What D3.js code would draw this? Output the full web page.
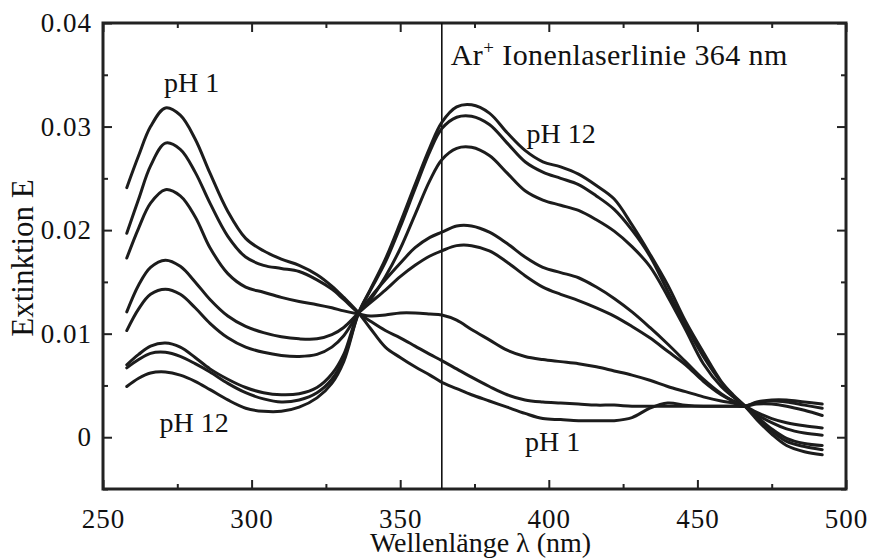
<!DOCTYPE html>
<html>
<head>
<meta charset="utf-8">
<script src="https://d3js.org/d3.v7.min.js"></script>
<style>
  body { margin: 0; background: #fff; }
  svg text { font-family: "Liberation Serif", "DejaVu Serif", serif; fill: #111; }
</style>
</head>
<body>
<div id="chart"></div>
<script>
// wavelength grid (nm) shared by all spectra
const lambda = [258, 262, 266, 271, 276, 281, 286, 292, 298, 304, 310, 316, 322, 327, 331,
  336, 340, 345, 350, 355, 360, 364, 369, 374, 380, 386, 392, 398, 404, 410, 416, 422,
  428, 434, 440, 446, 452, 458, 462, 466, 470, 475, 480, 486, 492];

// extinction, from pH 1 (first) to pH 12 (last)
const specA = [.0241, .0272, .0300, .0318, .0311, .0288, .0255, .0218, .0192, .0180, .0172, .0166, .0157, .0146, .0135,
  .0120, .0105, .0087, .0077, .0068, .0060, .0053, .0047, .0041, .0035, .0029, .0023, .0018, .0017, .0016, .0016, .0016,
  .0019, .0028, .0033, .0031, .0030, .0030, .0030, .0030, .0034, .0036, .0036, .0034, .0032];
const specB = [.0197, .0230, .0262, .0284, .0278, .0256, .0226, .0194, .0174, .0166, .0163, .0160, .0152, .0143, .0133,
  .0120, .0112, .0103, .0096, .0088, .0080, .0074, .0066, .0058, .0049, .0041, .0036, .0034, .0033, .0032, .0031, .0031,
  .0030, .0030, .0030, .0030, .0030, .0030, .0030, .0030, .0033, .0035, .0034, .0031, .0028];
const specC = [.0173, .0202, .0226, .0239, .0233, .0213, .0183, .0158, .0145, .0140, .0135, .0131, .0128, .0125, .0122,
  .0119, .0117, .0118, .0120, .0120, .0119, .0118, .0113, .0104, .0094, .0084, .0078, .0075, .0073, .0071, .0068, .0064,
  .0060, .0055, .0049, .0044, .0039, .0035, .0033, .0030, .0032, .0032, .0030, .0026, .0021];
const specD = [.0121, .0147, .0164, .0171, .0165, .0150, .0133, .0117, .0107, .0101, .0097, .0095, .0095, .0099, .0106,
  .0120, .0130, .0142, .0155, .0166, .0175, .0180, .0185, .0185, .0180, .0169, .0156, .0145, .0138, .0132, .0125, .0117,
  .0107, .0096, .0083, .0070, .0054, .0041, .0035, .0030, .0024, .0018, .0014, .0011, .0009];
const specE = [.0103, .0124, .0138, .0143, .0138, .0125, .0110, .0096, .0087, .0082, .0079, .0078, .0080, .0087, .0098,
  .0120, .0135, .0152, .0168, .0183, .0193, .0198, .0204, .0204, .0198, .0187, .0174, .0164, .0159, .0154, .0145, .0134,
  .0121, .0106, .0090, .0073, .0056, .0042, .0035, .0030, .0022, .0014, .0008, .0004, .0002];
const specF = [.0070, .0080, .0088, .0091, .0087, .0077, .0066, .0056, .0048, .0043, .0041, .0042, .0048, .0061, .0080,
  .0120, .0133, .0155, .0182, .0215, .0248, .0268, .0279, .0280, .0272, .0255, .0238, .0229, .0224, .0219, .0210, .0199,
  .0184, .0165, .0136, .0104, .0071, .0049, .0039, .0030, .0020, .0008, -.0001, -.0006, -.0008];
const specG = [.0067, .0075, .0081, .0082, .0078, .0071, .0063, .0052, .0043, .0037, .0034, .0036, .0043, .0056, .0076,
  .0120, .0142, .0169, .0203, .0240, .0276, .0298, .0309, .0310, .0302, .0284, .0266, .0256, .0250, .0244, .0233, .0220,
  .0200, .0175, .0141, .0108, .0078, .0053, .0040, .0030, .0019, .0006, -.0004, -.0009, -.0012];
const specH = [.0049, .0057, .0062, .0063, .0060, .0054, .0046, .0036, .0028, .0025, .0025, .0029, .0038, .0052, .0073,
  .0120, .0143, .0172, .0207, .0244, .0280, .0304, .0319, .0321, .0313, .0294, .0277, .0266, .0261, .0254, .0243, .0230,
  .0205, .0177, .0147, .0112, .0082, .0054, .0041, .0030, .0017, .0003, -.0008, -.0014, -.0017];

const spectra = [specA, specB, specC, specD, specE, specF, specG, specH];

const xTicks = [250, 300, 350, 400, 450, 500];
const yTicks = [0, 0.01, 0.02, 0.03, 0.04];
const laserLine = 364;

const width = 869, height = 559;
const margin = {top: 23, right: 23, bottom: 70, left: 103};

const svg = d3.select("#chart")
  .append("svg")
    .attr("width", width)
    .attr("height", height);

const x = d3.scaleLinear()
  .domain([250, 500])
  .range([margin.left, width - margin.right]);

const y = d3.scaleLinear()
  .domain([-0.005, 0.04])
  .range([height - margin.bottom, margin.top]);

const x0 = x.range()[0], x1 = x.range()[1];
const yb = y.range()[0], yt = y.range()[1];

// minor ticks
svg.append("g")
  .attr("transform", `translate(0, ${yb})`)
  .call(d3.axisBottom(x).tickValues(d3.range(275, 500, 50)).tickSize(-5).tickFormat(""));
svg.append("g")
  .attr("transform", `translate(0, ${yt})`)
  .call(d3.axisTop(x).tickValues(d3.range(275, 500, 50)).tickSize(-5).tickFormat(""));
svg.append("g")
  .attr("transform", `translate(${x0}, 0)`)
  .call(d3.axisLeft(y).tickValues([-0.005, 0.005, 0.015, 0.025, 0.035]).tickSize(-5).tickFormat(""));
svg.append("g")
  .attr("transform", `translate(${x1}, 0)`)
  .call(d3.axisRight(y).tickValues([-0.005, 0.005, 0.015, 0.025, 0.035]).tickSize(-5).tickFormat(""));

// major ticks + labels
svg.append("g")
  .attr("class", "xaxis")
  .attr("transform", `translate(0, ${yb})`)
  .call(d3.axisBottom(x).tickValues(xTicks).tickSize(-9).tickPadding(20).tickFormat(d3.format("d")));
svg.append("g")
  .attr("transform", `translate(0, ${yt})`)
  .call(d3.axisTop(x).tickValues(xTicks).tickSize(-9).tickFormat(""));
svg.append("g")
  .attr("class", "yaxis")
  .attr("transform", `translate(${x0}, 0)`)
  .call(d3.axisLeft(y).tickValues(yTicks).tickSize(-9).tickPadding(11)
    .tickFormat(d => d === 0 ? "0" : d3.format(".2f")(d)));
svg.append("g")
  .attr("transform", `translate(${x1}, 0)`)
  .call(d3.axisRight(y).tickValues(yTicks).tickSize(-9).tickFormat(""));

svg.selectAll(".domain").remove();
svg.selectAll(".tick line").attr("stroke", "#222").attr("stroke-width", 2);
svg.selectAll(".xaxis text, .yaxis text")
  .style("font-family", "Liberation Serif, serif")
  .style("font-size", "27px")
  .style("letter-spacing", "1px")
  .attr("fill", "#111");

// frame
svg.append("rect")
  .attr("x", x0).attr("y", yt)
  .attr("width", x1 - x0).attr("height", yb - yt)
  .attr("fill", "none")
  .attr("stroke", "#222")
  .attr("stroke-width", 3);

// laser line
svg.append("line")
  .attr("x1", x(laserLine)).attr("x2", x(laserLine))
  .attr("y1", yt).attr("y2", yb)
  .attr("stroke", "#111")
  .attr("stroke-width", 1.6);

// spectra
const line = d3.line()
  .x((d, i) => x(lambda[i]))
  .y(d => y(d))
  .curve(d3.curveCatmullRom.alpha(0.5));

svg.selectAll("path.spec")
  .data(spectra)
  .join("path")
    .attr("class", "spec")
    .attr("d", line)
    .attr("fill", "none")
    .attr("stroke", "#1c1c1c")
    .attr("stroke-width", 3)
    .attr("stroke-linejoin", "round")
    .attr("stroke-linecap", "round");

// annotations
function label(txt, px, py, size) {
  return svg.append("text")
    .attr("x", px).attr("y", py)
    .style("font-size", size + "px")
    .text(txt);
}
label("pH 1", x(270.5), y(0.0333), 28);
label("pH 12", x(392.5), y(0.0284), 28);
label("pH 12", x(269), y(0.0005), 28);
label("pH 1", x(392), y(-0.0013), 28);

const ar = svg.append("text")
  .attr("x", x(laserLine) + 9)
  .attr("y", y(0.0359))
  .style("font-size", "30px")
  .style("letter-spacing", "0.4px");
ar.append("tspan").text("Ar");
ar.append("tspan").attr("dy", -11).style("font-size", "19px").text("+");
ar.append("tspan").attr("dy", 11).text(" Ionenlaserlinie 364 nm");

// axis titles
svg.append("text")
  .attr("x", (x0 + x1) / 2 + 6)
  .attr("y", 552)
  .attr("text-anchor", "middle")
  .style("font-size", "28px")
  .text("Wellenlänge λ (nm)");

svg.append("text")
  .attr("transform", `translate(33, ${(yt + yb) / 2 + 2}) rotate(-90)`)
  .attr("text-anchor", "middle")
  .style("font-size", "31px")
  .text("Extinktion E");
</script>
</body>
</html>
